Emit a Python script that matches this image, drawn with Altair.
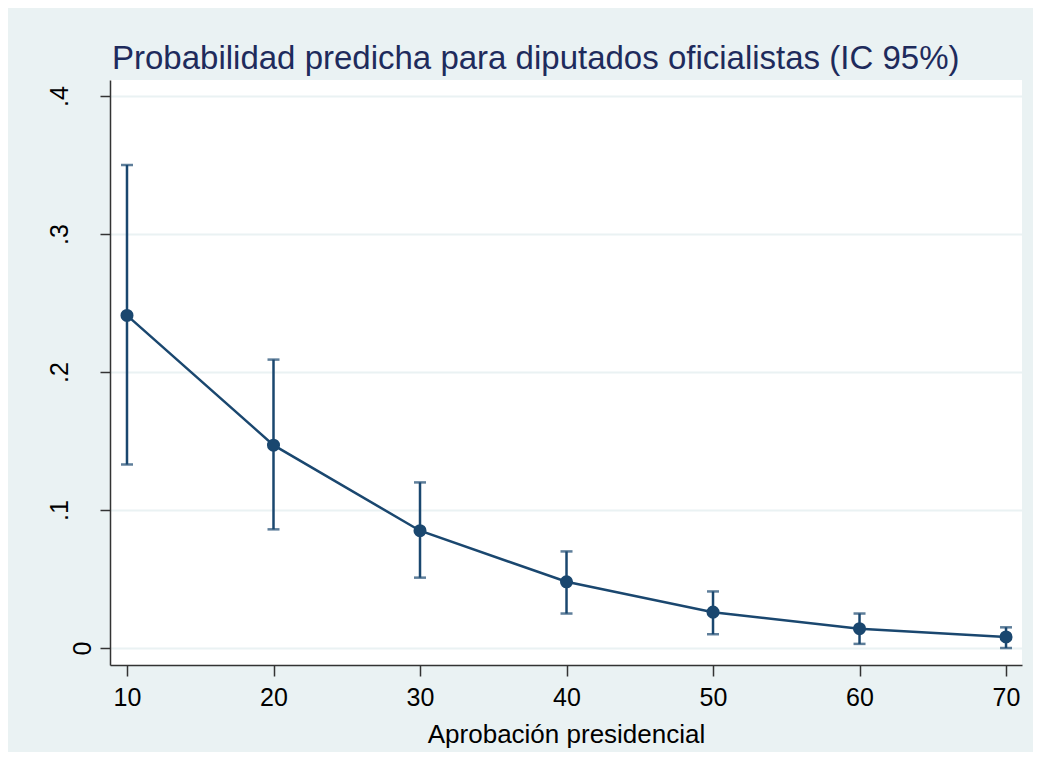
import altair as alt
import pandas as pd

aprobacion = [10, 20, 30, 40, 50, 60, 70]
prob = [0.241, 0.147, 0.085, 0.048, 0.026, 0.014, 0.008]
lower = [0.133, 0.086, 0.051, 0.025, 0.010, 0.003, 0.000]
upper = [0.350, 0.209, 0.120, 0.070, 0.041, 0.025, 0.015]
x_ticks = [10, 20, 30, 40, 50, 60, 70]
y_ticks = [0, 0.1, 0.2, 0.3, 0.4]

df = pd.DataFrame({"x": aprobacion, "p": prob, "lo": lower, "hi": upper})

NAVY = "#1A476F"
BG = "#EAF2F3"
FONT = "Liberation Sans"

xscale = alt.Scale(domain=[8.84, 71.09], nice=False, zero=False)
yscale = alt.Scale(domain=[-0.0123, 0.4116], nice=False, zero=False)

xenc = alt.X("x:Q", scale=xscale, axis=alt.Axis(
    values=x_ticks, title="Aprobación presidencial", grid=False,
    labelFontSize=25, titleFontSize=26, tickSize=11, labelPadding=29,
    labelBaseline="alphabetic", titleBaseline="alphabetic", titleY=77,
    labelColor="#000000", titleColor="#000000", titleFontWeight="normal",
    domainColor="#333333", tickColor="#333333", domainWidth=1.5, tickWidth=1.5,
    labelFont=FONT, titleFont=FONT, labelFlush=False))

yaxis = alt.Axis(
    values=y_ticks, title=None, grid=True, gridColor=BG, gridWidth=2,
    labelExpr="datum.value == 0 ? '0' : replace(format(datum.value, '.1f'), '0.', '.')",
    labelAngle=270, labelAlign="center", labelBaseline="alphabetic",
    labelPadding={"condition": {"test": "datum.value == 0", "value": 10}, "value": 33},
    labelFontSize=25, tickSize=10, labelColor="#000000", labelFont=FONT,
    domainColor="#333333", tickColor="#333333", domainWidth=1.5, tickWidth=1.5,
    labelFlush=False)

base = alt.Chart(df)

rules = base.mark_rule(color=NAVY, strokeWidth=2.5).encode(
    x=xenc, y=alt.Y("lo:Q", scale=yscale, axis=yaxis), y2="hi:Q")

line = base.mark_line(color=NAVY, strokeWidth=2.5).encode(
    x=alt.X("x:Q", scale=xscale), y=alt.Y("p:Q", scale=yscale))

caps_hi = base.mark_tick(color=NAVY, orient="horizontal", size=12, thickness=2.5).encode(
    x=alt.X("x:Q", scale=xscale), y=alt.Y("hi:Q", scale=yscale))
caps_lo = base.mark_tick(color=NAVY, orient="horizontal", size=12, thickness=2.5).encode(
    x=alt.X("x:Q", scale=xscale), y=alt.Y("lo:Q", scale=yscale))

points = base.mark_circle(color=NAVY, size=170, opacity=1).encode(
    x=alt.X("x:Q", scale=xscale), y=alt.Y("p:Q", scale=yscale))

chart = alt.layer(rules, line, caps_hi, caps_lo, points).properties(
    width=912, height=585,
    title=alt.TitleParams(
        "Probabilidad predicha para diputados oficialistas (IC 95%)",
        anchor="start", frame="group", fontSize=33, font=FONT, fontWeight="normal",
        color="#1E2B5C", baseline="alphabetic", offset=10, dx=2, dy=32),
    autosize=alt.AutoSizeParams(type="none"),
    padding={"left": 102, "top": 72, "right": 11, "bottom": 87},
    background=BG,
).configure_view(fill="white", stroke=None)

chart.save("out.html", embed_options={"renderer": "svg", "actions": False})
